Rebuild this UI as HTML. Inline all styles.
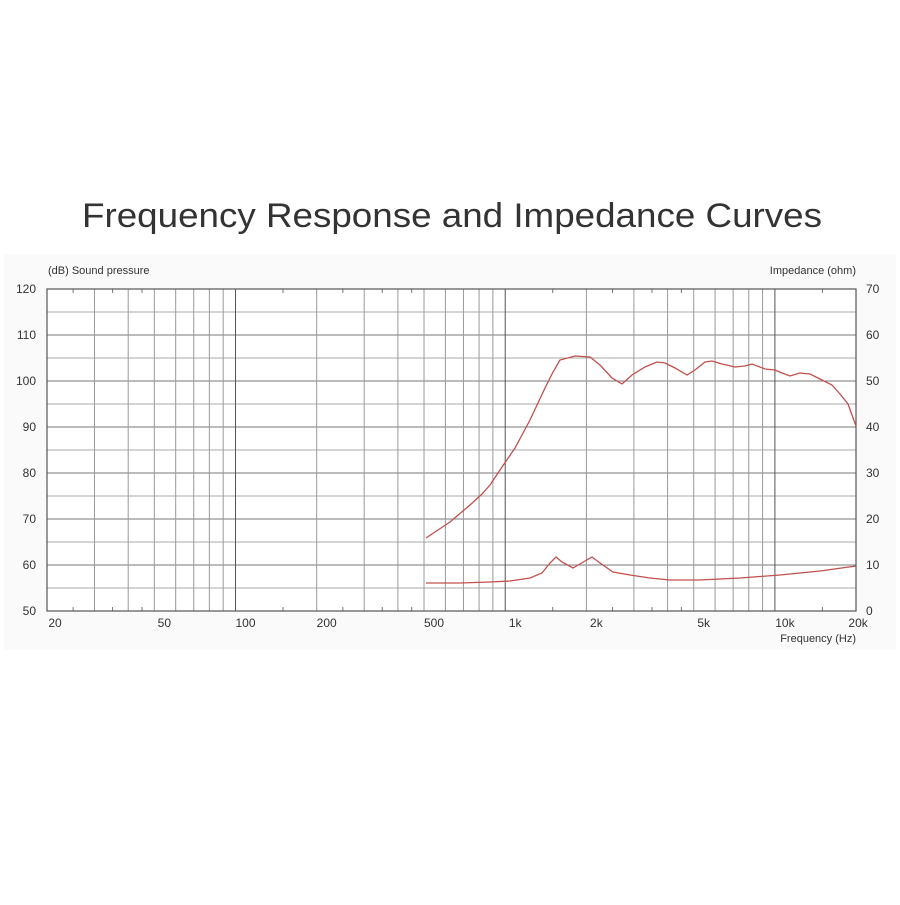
<!DOCTYPE html><html><head><style>body{margin:0;background:#fff}</style></head><body>
<svg width="900" height="900" xmlns="http://www.w3.org/2000/svg" font-family="Liberation Sans, sans-serif">
<rect width="900" height="900" fill="#fff"/>
<rect x="4" y="254" width="892" height="396" fill="#fafafa"/>
<text x="82" y="227" textLength="740" lengthAdjust="spacingAndGlyphs" font-size="34" fill="#333" font-weight="300">Frequency Response and Impedance Curves</text>
<g id="g"></g>
<text x="48" y="274" font-size="11" fill="#333">(dB)  Sound pressure</text>
<text x="856" y="274" font-size="11" fill="#333" text-anchor="end">Impedance  (ohm)</text>
<text x="856" y="642" font-size="11" fill="#333" text-anchor="end">Frequency  (Hz)</text>
<polyline fill="none" stroke="#c0504d" stroke-width="1.3" points="426,538 450,522 470,505 482,494 490,485 500,470 515,448 530,420 545,388 553,372 560,360 575,356 590,357 600,365 612,378 622,384 632,375 645,367 657,362 665,363 675,368 687,375 695,370 705,362 712,361 722,364 735,367 745,366 752,364 765,369 775,370 782,373 790,376 800,373 810,374 820,379 832,385 840,394 848,404 856,426"/>
<polyline fill="none" stroke="#c0504d" stroke-width="1.3" points="426,583 460,583 490,582 510,581 530,578 542,573 550,563 556,557 562,562 573,568 585,561 592,557 600,563 613,572 630,575 650,578 670,580 700,580 740,578 780,575 820,571 856,566"/>
</svg>
<script>
var g=document.getElementById('g'),s='',L=47,R=856,T=289,B=611,k=269.7;
function X(f){return L+Math.log10(f/20)*k}
s+='<rect x="'+L+'" y="'+T+'" width="'+(R-L)+'" height="'+(B-T)+'" fill="#fff"/>';
for(var i=1;i<14;i++){var y=T+i*23;s+='<line x1="'+L+'" x2="'+R+'" y1="'+y+'" y2="'+y+'" stroke="'+(i%2?'#aaa':'#777')+'" stroke-width="1"/>';}
var fs=[30,40,50,60,70,80,90,100,200,300,400,500,600,700,800,900,1000,2000,3000,4000,5000,6000,7000,8000,9000,10000];
fs.forEach(function(f){var x=X(f);var d=(f==100||f==1000||f==10000);s+='<line x1="'+x+'" x2="'+x+'" y1="'+T+'" y2="'+B+'" stroke="'+(d?'#555':'#999')+'" stroke-width="1"/>';});
[25,35,45,150,250,350,450,1500,2500,3500,4500,15000].forEach(function(f){var x=X(f);s+='<line x1="'+x+'" x2="'+x+'" y1="'+T+'" y2="'+(T+4)+'" stroke="#777"/><line x1="'+x+'" x2="'+x+'" y1="'+(B-4)+'" y2="'+B+'" stroke="#777"/>';});
s+='<rect x="'+L+'" y="'+T+'" width="'+(R-L)+'" height="'+(B-T)+'" fill="none" stroke="#555" stroke-width="1.2"/>';
for(var i=0;i<=7;i++){var y=B-i*46;s+='<text x="36" y="'+(y+4)+'" font-size="12" fill="#333" text-anchor="end">'+(50+i*10)+'</text><text x="866" y="'+(y+4)+'" font-size="12" fill="#333">'+(i*10)+'</text>';}
[[20,'20'],[50,'50'],[100,'100'],[200,'200'],[500,'500'],[1000,'1k'],[2000,'2k'],[5000,'5k'],[10000,'10k'],[20000,'20k']].forEach(function(a){var x=X(a[0])+(a[0]==20?8:(a[0]==20000?2:10));s+='<text x="'+x+'" y="627" font-size="12" fill="#333" text-anchor="middle">'+a[1]+'</text>';});
g.innerHTML=s;
</script>
</body></html>
